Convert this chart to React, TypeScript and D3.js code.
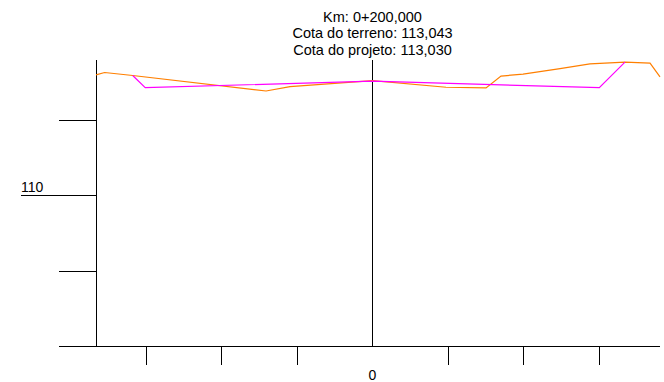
import React from "react";
import * as d3 from "d3";

// Cross-section data: offset (m) from axis, elevation (m)
const terrainOffsets = [-18.31, -17.74, -15.88, -7.05, -5.46, 0, 4.87, 7.52, 8.51, 9.97, 12.42, 14.40, 16.72, 18.38, 19.04];
const terrainElev = [113.197, 113.258, 113.179, 112.768, 112.882, 113.043, 112.868, 112.85, 113.163, 113.216, 113.363, 113.487, 113.532, 113.505, 113.145];

const projectOffsets = [-15.88, -15.05, 0, 15.02, 16.72];
const projectElev = [113.179, 112.855, 113.03, 112.855, 113.532];

const yTicks = [108, 110, 112];
const yLabelTick = 110;
const xTicks = [-15, -10, -5, 0, 5, 10, 15];
const xLabel = "0";
const titleLines = ["Km: 0+200,000", "Cota do terreno: 113,043", "Cota do projeto: 113,030"];

const W = 664;
const H = 382;

export default function App() {
  const x = d3.scaleLinear().domain([-20, 20]).range([372.5 - 302, 372.5 + 302]);
  const y = d3.scaleLinear().domain([106, 114]).range([346.5, 44.5]);

  const terrain = terrainOffsets.map((o, i) => [o, terrainElev[i]] as [number, number]);
  const project = projectOffsets.map((o, i) => [o, projectElev[i]] as [number, number]);
  const line = d3
    .line<[number, number]>()
    .x((d) => x(d[0]))
    .y((d) => y(d[1]));

  const axisX = 96.5;
  const topY = 59.5;
  const baseY = y(106);
  const font = "'Liberation Sans', Arial, sans-serif";

  return (
    <svg
      width={W}
      height={H}
      style={{ position: "absolute", left: 0, top: 0, background: "#fff" }}
      fontFamily={font}
    >
      {/* left vertical axis */}
      <line x1={axisX} x2={axisX} y1={topY} y2={baseY} stroke="#000" strokeWidth={1} shapeRendering="crispEdges" />
      {/* y ticks */}
      {yTicks.map((t) => (
        <line
          key={t}
          x1={t === yLabelTick ? 21 : 59}
          x2={axisX}
          y1={y(t)}
          y2={y(t)}
          stroke="#000"
          strokeWidth={1}
          shapeRendering="crispEdges"
        />
      ))}
      <text x={21} y={192} fontSize={14} fill="#000">
        {String(yLabelTick)}
      </text>
      {/* bottom axis */}
      <line x1={59} x2={660} y1={baseY} y2={baseY} stroke="#000" strokeWidth={1} shapeRendering="crispEdges" />
      {xTicks
        .filter((t) => t !== 0)
        .map((t) => (
          <line
            key={t}
            x1={x(t)}
            x2={x(t)}
            y1={baseY}
            y2={365}
            stroke="#000"
            strokeWidth={1}
            shapeRendering="crispEdges"
          />
        ))}
      {/* center axis */}
      <line x1={x(0)} x2={x(0)} y1={topY} y2={baseY} stroke="#000" strokeWidth={1} shapeRendering="crispEdges" />
      <text x={x(0)} y={380} fontSize={14} textAnchor="middle" fill="#000">
        {xLabel}
      </text>
      {/* title */}
      {titleLines.map((t, i) => (
        <text key={i} x={x(0)} y={21.5 + i * 16.5} fontSize={14.5} textAnchor="middle" fill="#000">
          {t}
        </text>
      ))}
      {/* terrain & project */}
      <path d={line(terrain) || ""} fill="none" stroke="#ff7f00" strokeWidth={1.2} />
      <path d={line(project) || ""} fill="none" stroke="#ff00ff" strokeWidth={1.2} />
    </svg>
  );
}
